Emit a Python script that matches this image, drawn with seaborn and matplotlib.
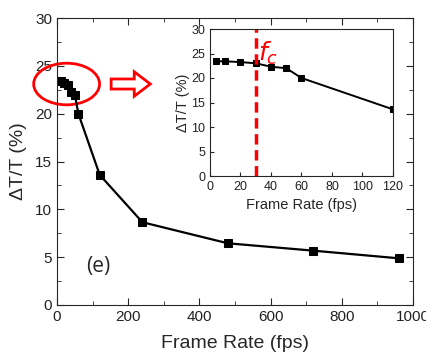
import matplotlib
matplotlib.use("Agg")
import matplotlib.pyplot as plt
import seaborn as sns
import pandas as pd
from matplotlib.patches import Ellipse, FancyArrow

fps = [4, 10, 20, 30, 40, 50, 60, 120, 240, 480, 720, 960]
dtt = [23.4, 23.4, 23.25, 23.0, 22.3, 22.0, 20.0, 13.6, 8.65, 6.45, 5.68, 4.88]
fc = 30

df = pd.DataFrame({"fps": fps, "dtt": dtt})
inset_df = df[df["fps"] <= 120]

sns.set_style("ticks")
plt.rcParams["font.family"] = ["Liberation Sans", "DejaVu Sans"]

fig = plt.figure(figsize=(4.27, 3.54), dpi=100)
ax = fig.add_axes([57 / 427, 1 - 305 / 354, 356 / 427, 287 / 354])

sns.lineplot(data=df, x="fps", y="dtt", ax=ax, color="black", lw=1.6,
             marker="s", markersize=6, markeredgecolor="black")
ax.set_xlim(0, 1000)
ax.set_ylim(0, 30)
ax.set_xticks([0, 200, 400, 600, 800, 1000])
ax.set_xticks([100, 300, 500, 700, 900], minor=True)
ax.set_yticks([0, 5, 10, 15, 20, 25, 30])
ax.set_yticks([2.5, 7.5, 12.5, 17.5, 22.5, 27.5], minor=True)
ax.tick_params(which="both", direction="in", top=True, right=True, labelsize=11,
               labelcolor="#222222")
ax.tick_params(which="major", length=5)
ax.tick_params(which="minor", length=3)
ax.set_xlabel("Frame Rate (fps)", fontsize=14, labelpad=8)
ax.set_ylabel("\u0394T/T (%)", fontsize=14, labelpad=6)
ax.text(82, 3.5, "(e)", fontsize=15, family="Open Sans")

ell = Ellipse((0.027, 0.77), 0.185, 0.145, transform=ax.transAxes,
              fill=False, edgecolor="red", lw=2, clip_on=False)
ax.add_patch(ell)
arrow = FancyArrow(0.152, 0.77, 0.11, 0, width=0.035, head_width=0.085,
                   head_length=0.045, transform=ax.transAxes,
                   facecolor="white", edgecolor="red", lw=2, length_includes_head=True)
ax.add_patch(arrow)

ins = fig.add_axes([210 / 427, 1 - 176 / 354, 183 / 427, 147 / 354])
sns.lineplot(data=inset_df, x="fps", y="dtt", ax=ins, color="black", lw=1.4,
             marker="s", markersize=4.5, markeredgecolor="black")
ins.axvline(fc, color="red", ls=(0, (3, 1.6)), lw=2.5)
ins.text(fc + 1.5, 23.5, "$f_c$", color="red", fontsize=18)
ins.set_xlim(0, 120)
ins.set_ylim(0, 30)
ins.set_xticks([0, 20, 40, 60, 80, 100, 120])
ins.set_yticks([0, 5, 10, 15, 20, 25, 30])
ins.tick_params(direction="in", labelsize=9, length=3, labelcolor="#222222")
ins.set_xlabel("Frame Rate (fps)", fontsize=10.5)
ins.set_ylabel("\u0394T/T (%)", fontsize=10.5, labelpad=1)

fig.savefig("out.png", dpi=100)
